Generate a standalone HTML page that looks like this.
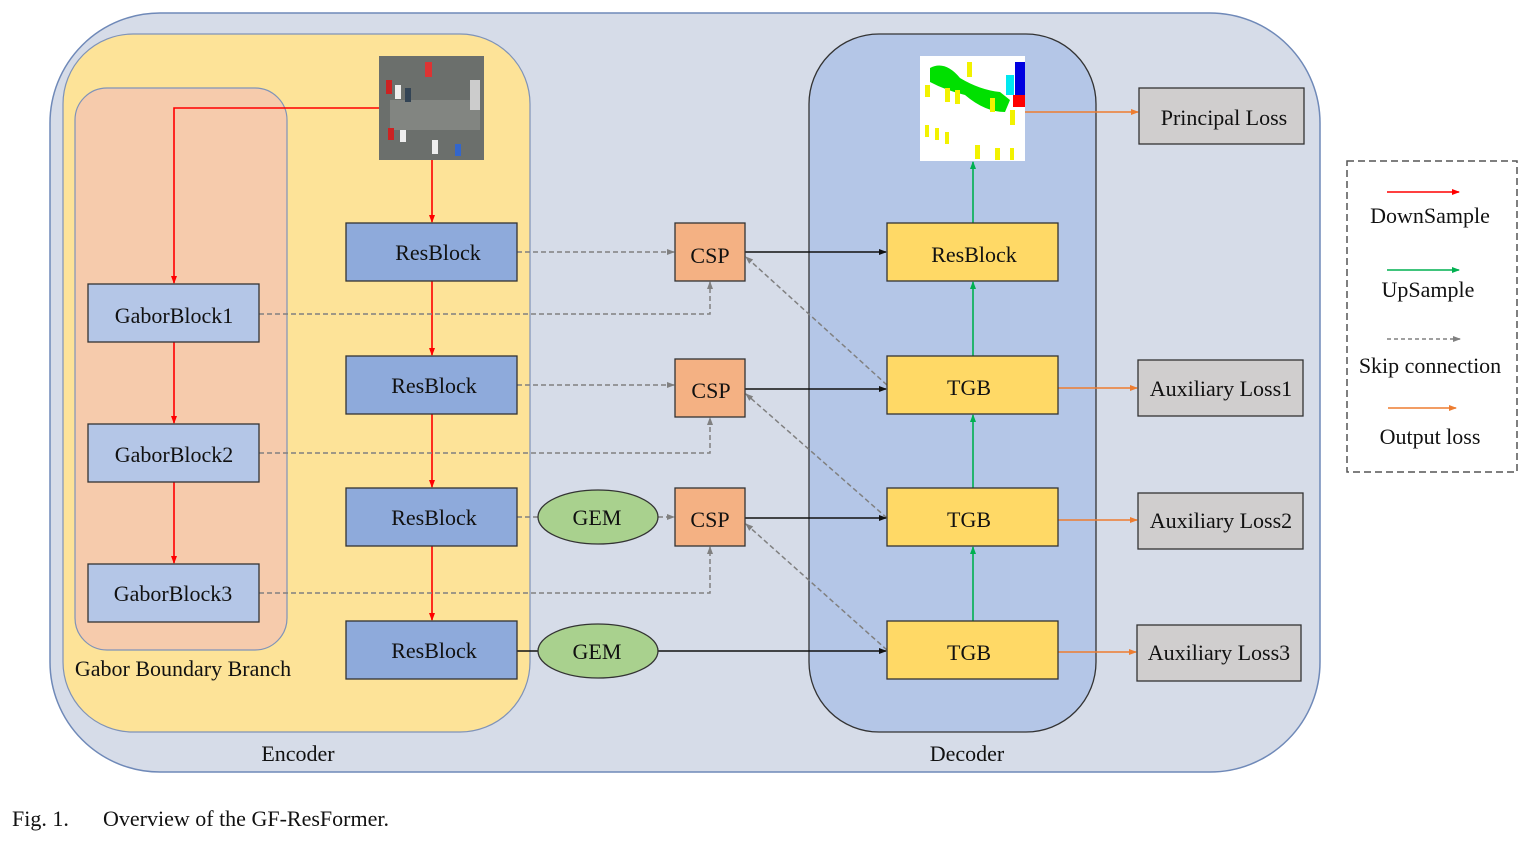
<!DOCTYPE html>
<html><head><meta charset="utf-8"><style>
html,body{margin:0;padding:0;background:#fff;}
svg{display:block;}
text{font-family:"Liberation Serif",serif;fill:#111;}
</style></head><body>
<svg width="1530" height="842" viewBox="0 0 1530 842" xmlns="http://www.w3.org/2000/svg">
<defs>
<marker id="ar" markerWidth="8" markerHeight="8" refX="7" refY="4" orient="auto" markerUnits="userSpaceOnUse"><path d="M0,1 L8,4 L0,7 z" fill="#ff0000"/></marker>
<marker id="ag" markerWidth="8" markerHeight="8" refX="7" refY="4" orient="auto" markerUnits="userSpaceOnUse"><path d="M0,1 L8,4 L0,7 z" fill="#00b050"/></marker>
<marker id="ak" markerWidth="8" markerHeight="8" refX="7" refY="4" orient="auto" markerUnits="userSpaceOnUse"><path d="M0,1 L8,4 L0,7 z" fill="#111"/></marker>
<marker id="ay" markerWidth="8" markerHeight="8" refX="7" refY="4" orient="auto" markerUnits="userSpaceOnUse"><path d="M0,1 L8,4 L0,7 z" fill="#808080"/></marker>
<marker id="ao" markerWidth="8" markerHeight="8" refX="7" refY="4" orient="auto" markerUnits="userSpaceOnUse"><path d="M0,1 L8,4 L0,7 z" fill="#ed7d31"/></marker>
</defs>
<rect x="50" y="13" width="1270" height="759" rx="110" fill="#d6dce8" stroke="#6f89b8" stroke-width="1.5"/>
<rect x="63" y="34" width="467" height="698" rx="70" fill="#fde398" stroke="#7f93b8" stroke-width="1.2"/>
<rect x="75" y="88" width="212" height="562" rx="32" fill="#f6cbac" stroke="#7f93b8" stroke-width="1.2"/>
<rect x="809" y="34" width="287" height="698" rx="70" fill="#b4c6e7" stroke="#333" stroke-width="1.3"/>

<!-- input image -->
<rect x="379" y="56" width="105" height="104" fill="#6b6f6c"/>
<rect x="390" y="100" width="90" height="30" fill="#8c8f8a" opacity="0.7"/>
<rect x="425" y="62" width="7" height="15" fill="#d33"/><rect x="395" y="85" width="6" height="14" fill="#eee"/><rect x="405" y="88" width="6" height="14" fill="#345"/><rect x="386" y="80" width="6" height="14" fill="#c22"/>
<rect x="388" y="128" width="6" height="12" fill="#c22"/><rect x="400" y="130" width="6" height="12" fill="#eee"/><rect x="432" y="140" width="6" height="14" fill="#eee"/><rect x="455" y="144" width="6" height="12" fill="#36c"/><rect x="470" y="80" width="10" height="30" fill="#ccc"/>

<!-- seg image -->
<rect x="920" y="56" width="105" height="105" fill="#fff"/>
<path d="M930,68 Q945,60 960,78 Q980,90 1000,92 L1010,100 L1005,112 Q985,112 965,95 Q945,90 930,82 z" fill="#00e000"/>
<rect x="1015" y="62" width="10" height="35" fill="#0000e0"/><rect x="1013" y="95" width="12" height="12" fill="#ff0000"/><rect x="1006" y="75" width="8" height="20" fill="#00e8f0"/>
<g fill="#f2f200"><rect x="925" y="85" width="5" height="12"/><rect x="945" y="88" width="5" height="14"/><rect x="955" y="90" width="5" height="14"/><rect x="967" y="62" width="5" height="15"/><rect x="990" y="98" width="5" height="14"/><rect x="1010" y="110" width="5" height="15"/><rect x="925" y="125" width="4" height="12"/><rect x="935" y="128" width="4" height="12"/><rect x="945" y="132" width="4" height="12"/><rect x="975" y="145" width="5" height="14"/><rect x="995" y="148" width="5" height="12"/><rect x="1010" y="148" width="4" height="12"/></g>

<!-- red arrows -->
<g stroke="#ff0000" stroke-width="1.6" fill="none">
<path d="M379,108 H174 V283" marker-end="url(#ar)"/>
<path d="M432,160 V222" marker-end="url(#ar)"/>
<path d="M432,281 V355" marker-end="url(#ar)"/>
<path d="M432,414 V487" marker-end="url(#ar)"/>
<path d="M432,546 V620" marker-end="url(#ar)"/>
<path d="M174,342 V423" marker-end="url(#ar)"/>
<path d="M174,482 V563" marker-end="url(#ar)"/>
</g>
<!-- dashed skips -->
<g stroke="#808080" stroke-width="1.5" fill="none" stroke-dasharray="5,3">
<path d="M517,252 H674" marker-end="url(#ay)"/>
<path d="M517,385 H674" marker-end="url(#ay)"/>
<path d="M517,517 H538"/>
<path d="M658,517 H674" marker-end="url(#ay)"/>
<path d="M259,314 H710 V282" marker-end="url(#ay)"/>
<path d="M259,453 H710 V418" marker-end="url(#ay)"/>
<path d="M259,593 H710 V547" marker-end="url(#ay)"/>
<path d="M887,385 L746,257" marker-end="url(#ay)"/>
<path d="M887,518 L746,394" marker-end="url(#ay)"/>
<path d="M887,650 L746,524" marker-end="url(#ay)"/>
</g>
<!-- black -->
<g stroke="#111" stroke-width="1.6" fill="none">
<path d="M745,252 H886" marker-end="url(#ak)"/>
<path d="M745,389 H886" marker-end="url(#ak)"/>
<path d="M745,518 H886" marker-end="url(#ak)"/>
<path d="M517,651 H538"/>
<path d="M658,651 H886" marker-end="url(#ak)"/>
</g>
<!-- green -->
<g stroke="#00b050" stroke-width="1.6" fill="none">
<path d="M973,223 V162" marker-end="url(#ag)"/>
<path d="M973,356 V282" marker-end="url(#ag)"/>
<path d="M973,488 V415" marker-end="url(#ag)"/>
<path d="M973,621 V547" marker-end="url(#ag)"/>
</g>
<!-- orange -->
<g stroke="#ed7d31" stroke-width="1.6" fill="none">
<path d="M1025,112 H1138" marker-end="url(#ao)"/>
<path d="M1058,388 H1137" marker-end="url(#ao)"/>
<path d="M1058,520 H1137" marker-end="url(#ao)"/>
<path d="M1058,652 H1136" marker-end="url(#ao)"/>
</g>

<g stroke="#333" stroke-width="1.3">
<rect x="346" y="223" width="171" height="58" fill="#8eaadb"/>
<rect x="346" y="356" width="171" height="58" fill="#8eaadb"/>
<rect x="346" y="488" width="171" height="58" fill="#8eaadb"/>
<rect x="346" y="621" width="171" height="58" fill="#8eaadb"/>
<rect x="88" y="284" width="171" height="58" fill="#b4c6e7"/>
<rect x="88" y="424" width="171" height="58" fill="#b4c6e7"/>
<rect x="88" y="564" width="171" height="58" fill="#b4c6e7"/>
<rect x="675" y="223" width="70" height="58" fill="#f4b183"/>
<rect x="675" y="359" width="70" height="58" fill="#f4b183"/>
<rect x="675" y="488" width="70" height="58" fill="#f4b183"/>
<ellipse cx="598" cy="517" rx="60" ry="27" fill="#a9d18e"/>
<ellipse cx="598" cy="651" rx="60" ry="27" fill="#a9d18e"/>
<rect x="887" y="223" width="171" height="58" fill="#ffd966"/>
<rect x="887" y="356" width="171" height="58" fill="#ffd966"/>
<rect x="887" y="488" width="171" height="58" fill="#ffd966"/>
<rect x="887" y="621" width="171" height="58" fill="#ffd966"/>
<rect x="1139" y="88" width="165" height="56" fill="#d0cece"/>
<rect x="1138" y="360" width="165" height="56" fill="#d0cece"/>
<rect x="1138" y="493" width="165" height="56" fill="#d0cece"/>
<rect x="1137" y="625" width="164" height="56" fill="#d0cece"/>
</g>

<g font-size="22" text-anchor="middle">
<text x="438" y="260">ResBlock</text>
<text x="434" y="393">ResBlock</text>
<text x="434" y="525">ResBlock</text>
<text x="434" y="658">ResBlock</text>
<text x="174" y="323">GaborBlock1</text>
<text x="174" y="462">GaborBlock2</text>
<text x="173" y="601">GaborBlock3</text>
<text x="710" y="263">CSP</text>
<text x="711" y="398">CSP</text>
<text x="710" y="527">CSP</text>
<text x="597" y="525">GEM</text>
<text x="597" y="659">GEM</text>
<text x="974" y="262">ResBlock</text>
<text x="969" y="395">TGB</text>
<text x="969" y="527">TGB</text>
<text x="969" y="660">TGB</text>
<text x="1224" y="125">Principal Loss</text>
<text x="1221" y="396">Auxiliary Loss1</text>
<text x="1221" y="528">Auxiliary Loss2</text>
<text x="1219" y="660">Auxiliary Loss3</text>
<text x="183" y="676">Gabor Boundary Branch</text>
<text x="298" y="761">Encoder</text>
<text x="967" y="761">Decoder</text>
<text x="1430" y="223">DownSample</text>
<text x="1428" y="297">UpSample</text>
<text x="1430" y="373">Skip connection</text>
<text x="1430" y="444">Output loss</text>
</g>
<text x="12" y="826" font-size="22">Fig. 1.</text>
<text x="103" y="826" font-size="22">Overview of the GF-ResFormer.</text>

<rect x="1347" y="161" width="170" height="311" fill="none" stroke="#555" stroke-width="1.5" stroke-dasharray="7,4"/>
<path d="M1387,192 H1459" stroke="#ff0000" stroke-width="1.6" marker-end="url(#ar)"/>
<path d="M1387,270 H1459" stroke="#00b050" stroke-width="1.6" marker-end="url(#ag)"/>
<path d="M1387,339 H1460" stroke="#808080" stroke-width="1.5" stroke-dasharray="4,3" marker-end="url(#ay)"/>
<path d="M1388,408 H1456" stroke="#ed7d31" stroke-width="1.6" marker-end="url(#ao)"/>
</svg>
</body></html>
